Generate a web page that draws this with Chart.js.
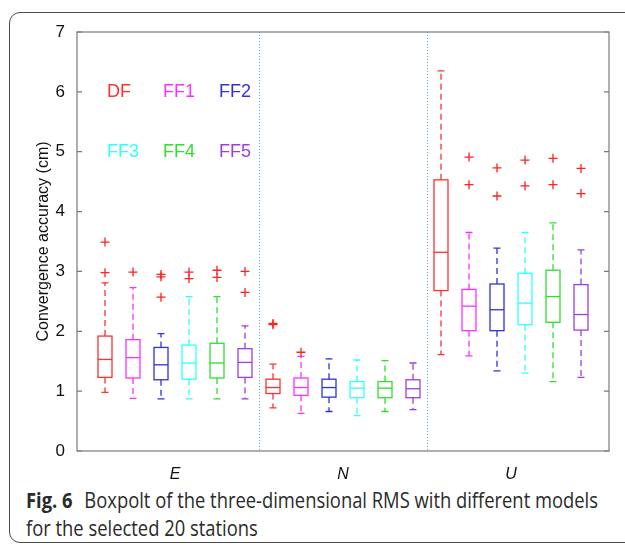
<!DOCTYPE html>
<html>
<head>
<meta charset="utf-8">
<script src="https://cdn.jsdelivr.net/npm/chart.js@4.4.1/dist/chart.umd.min.js"></script>
<style>
  html, body { margin: 0; padding: 0; background: #fff; }
  body { width: 625px; height: 546px; position: relative; overflow: hidden; }
  #frame {
    position: absolute; left: 9px; top: 12px; width: 640px; height: 531px;
    border: 1.5px solid #4a4a4a; border-radius: 11px; box-sizing: border-box;
  }
  #plot { position: absolute; left: 0; top: 0; }
  #caption {
    position: absolute; left: 26px; top: 486px; width: 760px;
    font-family: 'Open Sans', sans-serif; font-size: 21px; line-height: 28px;
    color: #2a2a2a; transform: scaleX(0.875); transform-origin: 0 0; white-space: nowrap;
  }
  #caption b { font-weight: 700; margin-right: 8px; }
</style>
</head>
<body>
<div id="frame"></div>
<canvas id="plot" width="625" height="480"></canvas>
<div id="caption"><b>Fig. 6</b> Boxpolt of the three-dimensional RMS with different models<br>for the selected 20 stations</div>
<script>
// --- data (order: E, N, U; each DF, FF1..FF5) ---
const components = ['E', 'N', 'U'];
const models = ['DF', 'FF1', 'FF2', 'FF3', 'FF4', 'FF5'];
const modelColors = ['#ff3030', '#ff30ff', '#3030dd', '#30ffff', '#30dd30', '#9b3fe0'];

const lowerWhisker = [0.98, 0.88, 0.87, 0.87, 0.87, 0.87,  0.72, 0.63, 0.66, 0.59, 0.66, 0.69,  1.61, 1.59, 1.34, 1.30, 1.16, 1.23];
const q1           = [1.23, 1.22, 1.19, 1.20, 1.22, 1.23,  0.96, 0.93, 0.90, 0.89, 0.89, 0.89,  2.68, 2.01, 2.01, 2.11, 2.15, 2.02];
const medians      = [1.53, 1.56, 1.44, 1.47, 1.47, 1.48,  1.06, 1.06, 1.06, 1.05, 1.05, 1.04,  3.32, 2.42, 2.36, 2.47, 2.58, 2.28];
const q3           = [1.92, 1.86, 1.73, 1.77, 1.80, 1.71,  1.20, 1.22, 1.20, 1.16, 1.16, 1.19,  4.53, 2.70, 2.79, 2.97, 3.02, 2.78];
const upperWhisker = [2.81, 2.73, 1.96, 2.58, 2.58, 2.09,  1.45, 1.58, 1.54, 1.52, 1.51, 1.47,  6.35, 3.65, 3.39, 3.65, 3.81, 3.36];
const outliers = [
  [3.49, 2.98], [2.99], [2.95, 2.91, 2.57], [2.99, 2.88], [3.02, 2.90], [3.00, 2.65],
  [2.13, 2.11], [1.65], [], [], [], [],
  [], [4.91, 4.45], [4.73, 4.26], [4.86, 4.43], [4.89, 4.45], [4.72, 4.30]
];
const yTicks = [0, 1, 2, 3, 4, 5, 6, 7];

// helpers
const nBoxes = medians.length;
const perGroup = models.length;
const boxPos = i => i + 1;                               // x position of box i
const groupCenter = g => g * perGroup + (perGroup + 1) / 2;
const dividers = components.slice(1).map((_, g) => (g + 1) * perGroup + 0.5);

const outlierPoints = [];
outliers.forEach((list, i) => list.forEach(v => outlierPoints.push({ x: boxPos(i), y: v })));

// draws boxes, whiskers, dividers, frame and the in-plot model labels
const boxPlugin = {
  id: 'boxes',
  beforeDatasetsDraw(chart) {
    const { ctx, chartArea: a, scales: { x, y } } = chart;
    ctx.save();

    // dotted group dividers
    ctx.strokeStyle = '#5fa6ea';
    ctx.lineWidth = 1;
    ctx.setLineDash([1, 2]);
    dividers.forEach(d => {
      const px = Math.round(x.getPixelForValue(d)) + 0.5;
      ctx.beginPath(); ctx.moveTo(px, Math.round(a.top)); ctx.lineTo(px, Math.round(a.bottom)); ctx.stroke();
    });

    const halfBox = 0.25, halfCap = 0.125;
    for (let i = 0; i < nBoxes; i++) {
      const c = modelColors[i % perGroup];
      const xc = x.getPixelForValue(boxPos(i));
      const xl = x.getPixelForValue(boxPos(i) - halfBox);
      const xr = x.getPixelForValue(boxPos(i) + halfBox);
      const cl = x.getPixelForValue(boxPos(i) - halfCap);
      const cr = x.getPixelForValue(boxPos(i) + halfCap);
      const yLo = y.getPixelForValue(lowerWhisker[i]);
      const yQ1 = y.getPixelForValue(q1[i]);
      const yMd = y.getPixelForValue(medians[i]);
      const yQ3 = y.getPixelForValue(q3[i]);
      const yHi = y.getPixelForValue(upperWhisker[i]);
      ctx.strokeStyle = c;
      ctx.lineWidth = 1.3;

      // whiskers (dashed)
      ctx.setLineDash([6, 4]);
      ctx.beginPath();
      ctx.moveTo(xc, yQ3); ctx.lineTo(xc, yHi);
      ctx.moveTo(xc, yQ1); ctx.lineTo(xc, yLo);
      ctx.stroke();

      // caps, box, median
      ctx.setLineDash([]);
      ctx.beginPath();
      ctx.moveTo(cl, yHi); ctx.lineTo(cr, yHi);
      ctx.moveTo(cl, yLo); ctx.lineTo(cr, yLo);
      ctx.stroke();
      ctx.strokeRect(xl, yQ3, xr - xl, yQ1 - yQ3);
      ctx.beginPath();
      ctx.moveTo(xl, yMd); ctx.lineTo(xr, yMd);
      ctx.stroke();
    }
    ctx.restore();
  },
  afterDraw(chart) {
    const { ctx, chartArea: a, scales: { x, y } } = chart;
    ctx.save();
    // axes box with inward ticks
    ctx.strokeStyle = '#7a7a7a';
    ctx.lineWidth = 1.2;
    ctx.strokeRect(a.left, a.top, a.right - a.left, a.bottom - a.top);
    ctx.beginPath();
    yTicks.forEach(t => {
      const py = y.getPixelForValue(t);
      ctx.moveTo(a.left, py); ctx.lineTo(a.left + 5, py);
      ctx.moveTo(a.right, py); ctx.lineTo(a.right - 5, py);
    });
    ctx.stroke();

    // model labels inside the plot (two rows at y = 6 and y = 5)
    ctx.font = '18px "Liberation Sans", Arial, sans-serif';
    ctx.textBaseline = 'middle';
    ctx.textAlign = 'left';
    models.forEach((m, k) => {
      const row = Math.floor(k / 3), col = k % 3;
      ctx.fillStyle = modelColors[k];
      ctx.fillText(m, x.getPixelForValue(1.07 + col * 2), y.getPixelForValue(6 - row));
    });
    ctx.restore();
  }
};

new Chart(document.getElementById('plot'), {
  type: 'scatter',
  data: {
    datasets: [{
      label: 'outliers',
      data: outlierPoints,
      pointStyle: 'cross',
      pointRadius: 4.5,
      pointHoverRadius: 4.5,
      borderColor: '#ff2020',
      borderWidth: 1.3
    }]
  },
  options: {
    responsive: false,
    devicePixelRatio: 1,
    animation: false,
    layout: { padding: { left: 34, top: 32, right: 16, bottom: 0 } },
    plugins: { legend: { display: false }, tooltip: { enabled: false } },
    scales: {
      x: {
        type: 'linear', min: 0, max: nBoxes + 1,
        grid: { display: false }, border: { display: false },
        afterBuildTicks: s => { s.ticks = components.map((_, g) => ({ value: groupCenter(g) })); },
        afterFit: s => { s.height = 29; },
        ticks: {
          padding: 6, color: '#111', maxRotation: 0, autoSkip: false,
          font: { family: '"Liberation Sans", Arial, sans-serif', size: 16, style: 'italic' },
          callback: v => components[Math.round((v - (perGroup + 1) / 2) / perGroup)]
        }
      },
      y: {
        min: 0, max: 7,
        grid: { display: false }, border: { display: false },
        afterBuildTicks: s => { s.ticks = yTicks.map(v => ({ value: v })); },
        afterFit: s => { s.width = 43; },
        ticks: {
          padding: 4, color: '#111',
          font: { family: '"Liberation Sans", Arial, sans-serif', size: 17 }
        },
        title: {
          display: true, text: 'Convergence accuracy (cm)', color: '#111',
          padding: { top: 0, bottom: 0 },
          font: { family: '"Liberation Sans", Arial, sans-serif', size: 16 }
        }
      }
    }
  },
  plugins: [boxPlugin]
});
</script>
</body>
</html>
